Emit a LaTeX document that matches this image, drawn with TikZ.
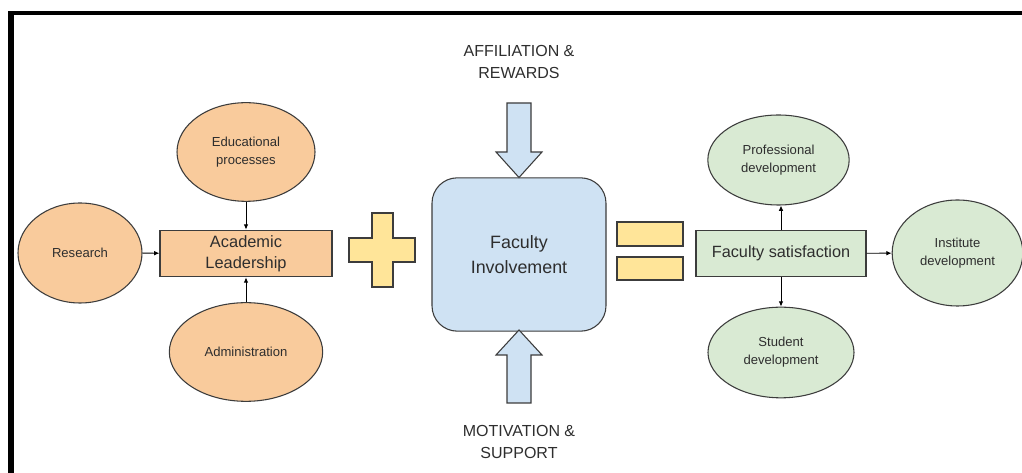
\documentclass[tikz,border=0pt]{standalone}
\usepackage{fontspec}
\setmainfont{Liberation Sans}
\usetikzlibrary{shapes.geometric,arrows.meta}
\definecolor{orfill}{HTML}{F9CB9C}
\definecolor{grfill}{HTML}{D9EAD3}
\definecolor{blfill}{HTML}{CFE2F3}
\definecolor{yefill}{HTML}{FFE599}
\definecolor{edge}{HTML}{3C3C3C}
\definecolor{txt}{HTML}{2E2E2E}
\tikzset{
  ell/.style={ellipse,draw=edge,line width=0.8pt,inner sep=0pt,align=center,text=txt,
     font=\fontsize{9.8pt}{13.5pt}\selectfont},
  boxnode/.style={rectangle,draw=edge,line width=0.8pt,inner sep=0pt,align=center,text=txt},
  conn/.style={draw=black,line width=0.7pt,-{Latex[length=4pt,width=3.5pt]}},
  blockarrow/.style={fill=blfill,draw=edge,line width=0.8pt,line join=miter},
  signbox/.style={fill=yefill,draw=edge,line width=0.8pt},
  caplabel/.style={align=center,text=txt,font=\fontsize{12pt}{15.8pt}\selectfont}
}
\begin{document}
\begin{tikzpicture}[x=0.75pt,y=-0.75pt]
\useasboundingbox (0,0) rectangle (1022,473);
\clip (0,0) rectangle (1022,473);
\fill[white] (0,0) rectangle (1022,473);
% frame
\draw[line width=4.5pt] (11,480) -- (11,11.5);
\draw[line width=3pt] (9,13) -- (1030,13);

% left group
\node[ell,fill=orfill,minimum width=93pt,minimum height=75pt] (res) at (80,253) {Research};
\node[ell,fill=orfill,minimum width=103.5pt,minimum height=74pt] (edu) at (246,152) {Educational\\processes};
\node[ell,fill=orfill,minimum width=115pt,minimum height=74pt] (adm) at (246,352) {Administration};
\node[boxnode,fill=orfill,minimum width=129pt,minimum height=35pt,
  font=\fontsize{12.3pt}{15.8pt}\selectfont] (al) at (246,253.5) {Academic\\Leadership};
\draw[conn] (res) -- (al);
\draw[conn] (edu) -- (al);
\draw[conn] (adm) -- (al);

% plus sign
\draw[signbox] (372,213) -- (393,213) -- (393,238) -- (415,238) -- (415,262) -- (393,262)
  -- (393,287) -- (372,287) -- (372,262) -- (349,262) -- (349,238) -- (372,238) -- cycle;

% centre
\node[boxnode,fill=blfill,rounded corners=19pt,minimum width=130.5pt,minimum height=115pt,
  font=\fontsize{13.4pt}{18.5pt}\selectfont] (fi) at (519,254.5) {Faculty\\Involvement};
\node[caplabel] (aff) at (519,62) {AFFILIATION \&\\REWARDS};
\node[caplabel] (mot) at (519,442) {MOTIVATION \&\\SUPPORT};
\draw[blockarrow] (507,103) -- (531,103) -- (531,152) -- (542,152) -- (519,177.5) -- (496,152)
  -- (507,152) -- cycle;
\draw[blockarrow] (507,403) -- (531,403) -- (531,355) -- (542,355) -- (519,330) -- (496,355)
  -- (507,355) -- cycle;

% equals sign
\draw[signbox] (617,222) rectangle (683,246);
\draw[signbox] (617,257) rectangle (683,280);

% right group
\node[boxnode,fill=grfill,minimum width=127.5pt,minimum height=35pt,
  font=\fontsize{12.2pt}{15pt}\selectfont] (fs) at (781,253.5) {Faculty satisfaction};
\node[ell,fill=grfill,minimum width=106pt,minimum height=67.5pt] (pd) at (778.5,160) {Professional\\development};
\node[ell,fill=grfill,minimum width=98pt,minimum height=79.5pt] (id) at (957.5,253) {Institute\\development};
\node[ell,fill=grfill,minimum width=109.5pt,minimum height=68pt] (sd) at (781,352.5) {Student\\development};
\draw[conn] (fs.north) -- (fs.north |- pd.south);
\draw[conn] (fs) -- (id);
\draw[conn] (fs) -- (sd);
\end{tikzpicture}
\end{document}
